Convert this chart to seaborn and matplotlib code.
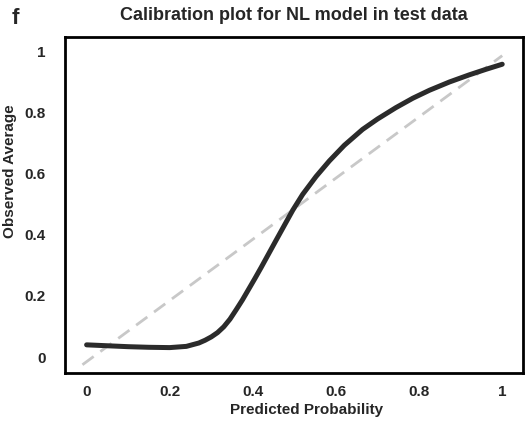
import numpy as np
import pandas as pd
import matplotlib
matplotlib.use("Agg")
import matplotlib.pyplot as plt
import seaborn as sns
from matplotlib.ticker import MultipleLocator

# calibration curve
pred_prob = [0.00, 0.05, 0.10, 0.15, 0.20, 0.24, 0.27, 0.285, 0.30, 0.315,
             0.33, 0.345, 0.36, 0.375, 0.39, 0.405, 0.42, 0.456, 0.496, 0.52,
             0.552, 0.584, 0.62, 0.664, 0.70, 0.744, 0.785, 0.825, 0.873, 0.92,
             0.96, 1.00]
obs_avg = [0.040, 0.037, 0.034, 0.032, 0.031, 0.035, 0.046, 0.055, 0.066, 0.080,
           0.099, 0.124, 0.155, 0.187, 0.222, 0.257, 0.293, 0.382, 0.480, 0.532,
           0.590, 0.641, 0.692, 0.744, 0.778, 0.815, 0.846, 0.872, 0.899, 0.922,
           0.940, 0.957]

# reference (dashed) line
ref_x = [-0.01, 1.0]
ref_y = [-0.025, 0.985]

xticks = [0, 0.2, 0.4, 0.6, 0.8, 1]
xtick_labels = ["0", "0.2", "0.4", "0.6", "0.8", "1"]
yticks = [0, 0.2, 0.4, 0.6, 0.8, 1]
ytick_labels = ["0", "0.2", "0.4", "0.6", "0.8", "1"]

sns.set_style("white")
plt.rcParams['font.family'] = ['Liberation Sans', 'DejaVu Sans']

df = pd.DataFrame({"pred": pred_prob, "obs": obs_avg})
ref = pd.DataFrame({"x": ref_x, "y": ref_y})

fig = plt.figure(figsize=(5.26, 4.22), dpi=100)
ax = fig.add_axes([65 / 526, 49 / 422, 458 / 526, 336 / 422])

sns.lineplot(data=ref, x="x", y="y", ax=ax, color="#c8c8c8", lw=2,
             linestyle=(0, (5, 3)))
sns.lineplot(data=df, x="pred", y="obs", ax=ax, color="#2b2b2b", lw=3.6,
             solid_capstyle="round", solid_joinstyle="round", sort=False)

ax.set_xlim(-0.052, 1.05)
ax.set_ylim(-0.052, 1.046)
ax.set_xticks(xticks)
ax.set_xticklabels(xtick_labels)
ax.set_yticks(yticks)
ax.set_yticklabels(ytick_labels)
ax.xaxis.set_minor_locator(MultipleLocator(0.1))
ax.yaxis.set_minor_locator(MultipleLocator(0.1))
ax.tick_params(which="both", direction="in", color="#aaaaaa", width=1)
ax.tick_params(which="major", length=4)
ax.tick_params(which="minor", length=2)
ax.tick_params(axis="x", pad=9, labelsize=11)
ax.tick_params(axis="y", pad=14, labelsize=11)
for lbl in ax.get_xticklabels() + ax.get_yticklabels():
    lbl.set_fontweight("bold")

for sp in ax.spines.values():
    sp.set_visible(True)
    sp.set_color("black")
    sp.set_linewidth(2)

ax.set_xlabel("Predicted Probability", fontsize=11, fontweight="bold")
ax.set_ylabel("Observed Average", fontsize=11, fontweight="bold")
ax.xaxis.set_label_coords(0.528, -0.09)
ax.yaxis.set_label_coords(-0.105, 0.6)
ax.set_title("Calibration plot for NL model in test data", fontsize=13,
             fontweight="bold", pad=12)
fig.text(12 / 526, 1 - 19 / 422, "f", fontsize=16, fontweight="bold",
         va="center", ha="left")

fig.savefig("out.png", dpi=100)
